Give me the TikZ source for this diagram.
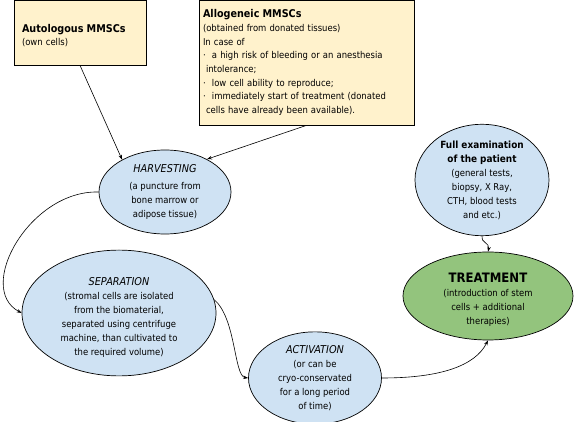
\documentclass[tikz,border=0pt]{standalone}
\usepackage{fontspec}
\setmainfont{DejaVu Sans}[FakeStretch=0.9]
\usetikzlibrary{shapes.geometric,arrows.meta,positioning}
\definecolor{SrcYellow}{RGB}{255,242,204}
\definecolor{StepBlue}{RGB}{207,226,243}
\definecolor{TreatGreen}{RGB}{147,196,125}
\tikzset{
  srcbox/.style={draw=black,fill=SrcYellow,rectangle,inner sep=0pt,
                 line width=0.7pt,font=\fontsize{9.4}{13.7}\selectfont,align=left},
  stepell/.style={draw=black,fill=StepBlue,ellipse,inner sep=0pt,
                  line width=0.7pt,font=\fontsize{9.4}{14}\selectfont,align=center},
  endell/.style={stepell,fill=TreatGreen},
  arr/.style={-{Stealth[length=5pt,width=3.5pt]},black,line width=0.6pt},
}

\begin{document}
\begin{tikzpicture}[x=1pt,y=-1pt]
  \useasboundingbox (0,0) rectangle (574,422);
  % sources of the cells
  \node[srcbox,minimum width=132pt,minimum height=65pt,text width=116pt] (auto) at (80,32.5)
    {\rule{0pt}{14pt}{\fontsize{10.7}{14}\selectfont\bfseries Autologous MMSCs}\\(own cells)};
  \node[srcbox,minimum width=215pt,minimum height=125pt,text width=207pt] (allo) at (306.5,62.5)
    {{\fontsize{10.7}{13.7}\selectfont\bfseries Allogeneic MMSCs}\\
     (obtained from donated tissues)\\
     In case of\\
     \textperiodcentered\ \ a high risk of bleeding or an anesthesia\\
     \hspace*{3pt}intolerance;\\
     \textperiodcentered\ \ low cell ability to reproduce;\\
     \textperiodcentered\ \ immediately start of treatment (donated\\
     \hspace*{3pt}cells have already been available).};
  % steps
  \node[stepell,minimum width=132pt,minimum height=84pt] (harv) at (165,192)
    {{\fontsize{10.8}{14}\selectfont\itshape HARVESTING}\\[3pt](a puncture from\\bone marrow or\\adipose tissue)};
  \node[stepell,minimum width=194pt,minimum height=94pt] (sep) at (119,313)
    {\rule{0pt}{17pt}{\fontsize{10.8}{14}\selectfont\itshape SEPARATION}\\(stromal cells are isolated\\from the biomaterial,\\separated using centrifuge\\machine, than cultivated to\\the required volume)};
  \node[stepell,minimum width=133pt,minimum height=86pt] (act) at (315,378)
    {{\fontsize{10.8}{14}\selectfont\itshape ACTIVATION}\\(or can be\\cryo-conservated\\for a long period\\of time)};
  \node[stepell,minimum width=134pt,minimum height=104pt] (exam) at (482,180)
    {{\fontsize{9.9}{14}\selectfont\bfseries Full examination}\\{\fontsize{9.9}{14}\selectfont\bfseries of the patient}\\(general tests,\\biopsy, X Ray,\\CTH, blood tests\\and etc.)};
  \node[endell,minimum width=170pt,minimum height=88pt] (treat) at (488,296)
    {\rule{0pt}{16pt}{\fontsize{13}{15}\selectfont\bfseries TREATMENT}\\(introduction of stem\\cells + additional\\therapies)};
  % connectors
  \draw[arr] (auto.south) -- (harv.143);
  \draw[arr] (allo.south) -- (harv.38);
  \draw[arr] (harv.west) .. controls (30,190) and (-25,288) .. (sep.west);
  \draw[arr] (sep.8) .. controls (236,318) and (234,376) .. (act.west);
  \draw[arr] (act.east) .. controls (440,378) and (475,366) .. (treat.south);
  \draw[arr] (exam.south) .. controls (480,242) and (490,243) .. (treat.north);
\end{tikzpicture}
\end{document}
